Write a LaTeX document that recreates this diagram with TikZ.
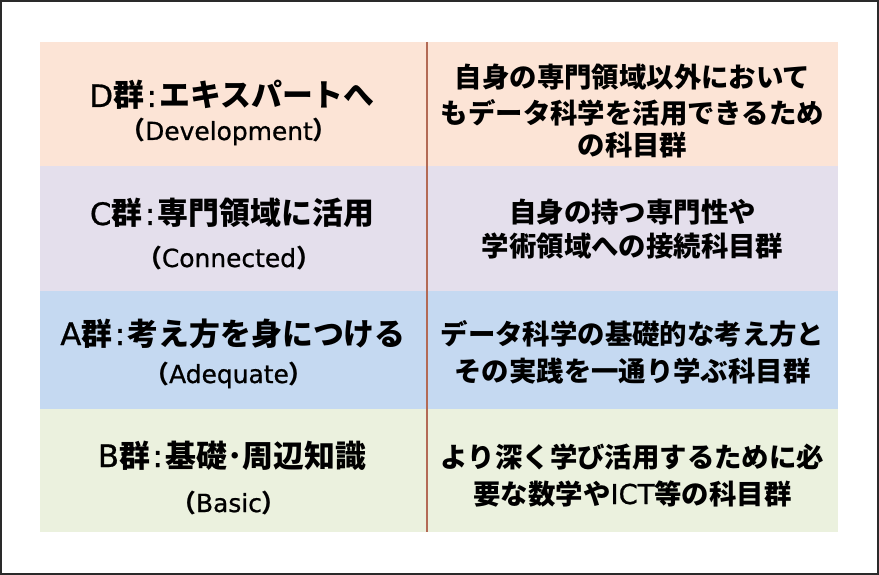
\documentclass[tikz,border=0pt]{standalone}
\usepackage{fontspec}
\setmainfont{Noto Sans CJK JP}
\newfontfamily\latf{DejaVu Sans}[UprightFeatures={FakeBold=0.8}]
\definecolor{rowD}{HTML}{FCE4D6}
\definecolor{rowC}{HTML}{E4DFEC}
\definecolor{rowA}{HTML}{C5D9F1}
\definecolor{rowB}{HTML}{EBF1DE}
\definecolor{divline}{HTML}{B36A55}
\definecolor{frame}{HTML}{2A2A2A}
\tikzset{
  headline/.style={anchor=base, inner sep=0pt, font=\fontsize{31}{31}\selectfont\bfseries, text=black},
  subline/.style={anchor=base, inner sep=0pt, font=\fontsize{25}{25}\selectfont\bfseries, text=black},
  descline/.style={anchor=base, inner sep=0pt, font=\fontsize{27.5}{27.5}\selectfont\bfseries, text=black},
}
\newcommand{\lat}[1]{{\latf\mdseries #1}}
\newcommand{\gcolon}{{\latf\mdseries\hspace{2.5bp}:\hspace{2.5bp}}}
\begin{document}
\begin{tikzpicture}[x=1bp,y=-1bp]
\useasboundingbox (0,0) rectangle (879,575);
\fill[white] (0,0) rectangle (879,575);
% bands
\fill[rowD] (40,42) rectangle (838,166);
\fill[rowC] (40,166) rectangle (838,291);
\fill[rowA] (40,291) rectangle (838,409);
\fill[rowB] (40,409) rectangle (838,532);
% divider
\coordinate (vtop) at (427,42);
\coordinate (vbot) at (427,532);
\draw[divline, line width=1.5bp] (vtop) -- (vbot);
% frame
\draw[frame, line width=2bp] (1,1) rectangle (878,574);
% left column
\node[headline] (d1) at (232,107) {\lat{D}群\gcolon エキスパートへ};
\node[subline] (d2) at (229,140) {（\lat{Development}）};
\node[headline] (c1) at (232,225) {\lat{C}群\gcolon 専門領域に活用};
\node[subline] (c2) at (229,267) {（\lat{Connected}）};
\node[headline] (a1) at (233,345) {\lat{A}群\gcolon 考え方を身につける};
\node[subline] (a2) at (229,383) {（\lat{Adequate}）};
\node[headline] (b1) at (232,467) {\lat{B}群\gcolon 基礎･周辺知識};
\node[subline] (b2) at (229,512) {（\lat{Basic}）};
% right column
\node[descline] (dr1) at (632.5,88) {自身の専門領域以外において};
\node[descline] (dr2) at (632.5,124) {もデータ科学を活用できるため};
\node[descline] (dr3) at (632.5,156) {の科目群};
\node[descline] (cr1) at (632.5,223) {自身の持つ専門性や};
\node[descline] (cr2) at (632.5,257) {学術領域への接続科目群};
\node[descline] (ar1) at (632.5,344) {データ科学の基礎的な考え方と};
\node[descline] (ar2) at (632.5,381) {その実践を一通り学ぶ科目群};
\node[descline] (br1) at (632.5,467) {より深く学び活用するために必};
\node[descline] (br2) at (632.5,504) {要な数学や\lat{ICT}等の科目群};
\end{tikzpicture}
\end{document}
